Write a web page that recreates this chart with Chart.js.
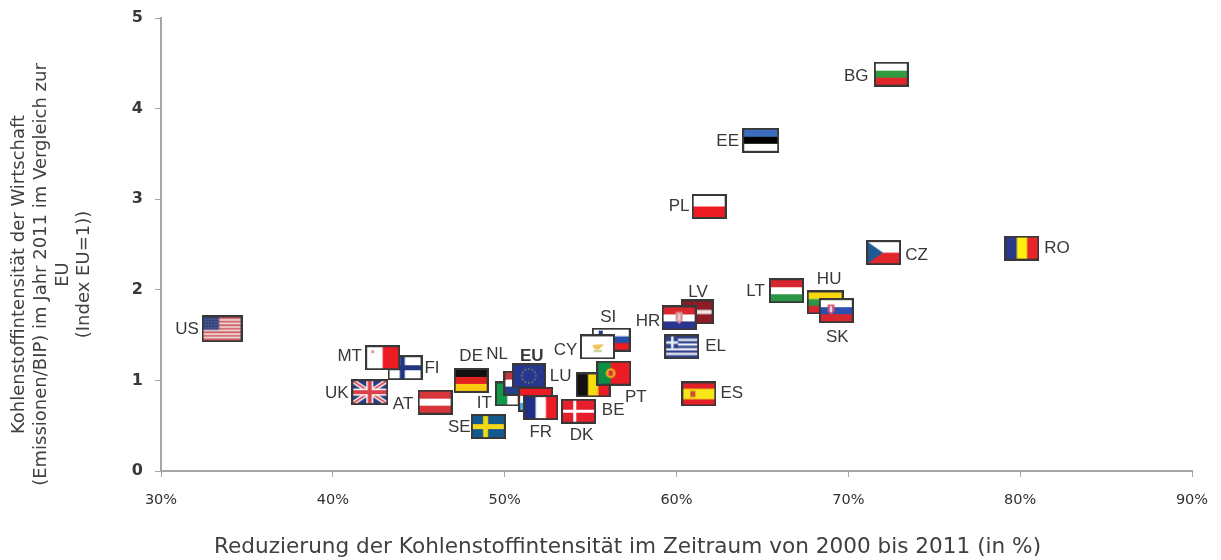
<!DOCTYPE html>
<html>
<head>
<meta charset="utf-8">
<title>Kohlenstoffintensität</title>
<script src="https://cdn.jsdelivr.net/npm/chart.js@4/dist/chart.umd.min.js"></script>
<style>
html, body { margin: 0; padding: 0; background: #fff; }
canvas { display: block; }
</style>
</head>
<body>
<canvas id="canvas" width="1221" height="560"></canvas>
<script>
// values, later entries are painted on top
var countries = ['US','FI','MT','UK','AT','DE','SE','IT','NL','EU','LU','FR','DK','BE','PT','SI','CY','LV','HR','EL','ES','LT','HU','SK','PL','EE','BG','CZ','RO'];
var reduction = [33.55,44.2,42.9,42.15,45.95,48.05,49.05,50.45,50.95,51.4,51.8,52.1,54.3,55.15,56.35,56.2,55.4,61.2,60.15,60.3,61.3,66.4,68.65,69.3,61.9,64.9,72.5,72.05,80.1];
var intensity = [1.57,1.14,1.25,0.87,0.76,1.0,0.49,0.85,0.97,1.05,0.79,0.7,0.66,0.95,1.08,1.45,1.37,1.755,1.69,1.37,0.85,1.99,1.86,1.77,2.92,3.65,4.38,2.41,2.46];

var xTicks = [30,40,50,60,70,80,90];
var yTicks = [0,1,2,3,4,5];
var xTitle = 'Reduzierung der Kohlenstoffintensität im Zeitraum von 2000 bis 2011 (in %)';
var yTitle = ['Kohlenstoffintensität der Wirtschaft','(Emissionen/BIP) im Jahr 2011 im Vergleich zur','EU','(Index EU=1))'];

// label offset from the flag centre, in pixels
var labelOffset = {
  US:[-35,1], FI:[27,1], MT:[-33,-1], UK:[-33,1], AT:[-32,2], DE:[0,-24], SE:[-29,1], IT:[-28,9],
  NL:[-24,-29], EU:[3,-20], LU:[25,-23], FR:[0,25], DK:[3,24], BE:[20,25], PT:[22,24], SI:[-3,-22],
  CY:[-32,3], LV:[1,-20], HR:[-31,3], EL:[34,-1], ES:[33,-1], LT:[-31,1], HU:[4,-23], SK:[1,27],
  PL:[-30,0], EE:[-33,1], BG:[-35,2], CZ:[33,3], RO:[35,0]
};

function hBands(g, w, h, cols, weights) {
  var total = 0, y = 0;
  weights = weights || cols.map(function() { return 1; });
  weights.forEach(function(v) { total += v; });
  cols.forEach(function(c, i) {
    var bh = h * weights[i] / total;
    g.fillStyle = c;
    g.fillRect(0, y, w, bh + 0.5);
    y += bh;
  });
}
function vBands(g, w, h, cols, weights) {
  var total = 0, x = 0;
  weights = weights || cols.map(function() { return 1; });
  weights.forEach(function(v) { total += v; });
  cols.forEach(function(c, i) {
    var bw = w * weights[i] / total;
    g.fillStyle = c;
    g.fillRect(x, 0, bw + 0.5, h);
    x += bw;
  });
}
function nordic(g, w, h, bg, cross, t) {
  g.fillStyle = bg;
  g.fillRect(0, 0, w, h);
  g.fillStyle = cross;
  g.fillRect(w * 0.33, 0, t, h);
  g.fillRect(0, h / 2 - t / 2, w, t);
}
function crest(g, x, y, c1, c2, rw, rh) {
  g.fillStyle = c1;
  g.fillRect(x - rw, y - rh, rw * 2, rh * 1.4);
  g.beginPath();
  g.moveTo(x - rw, y + rh * 0.4);
  g.lineTo(x, y + rh);
  g.lineTo(x + rw, y + rh * 0.4);
  g.fill();
  g.fillStyle = c2;
  g.fillRect(x - 1, y - rh * 0.7, 2, rh * 1.2);
}

var RED = '#ed1c24', BLUE = '#20358f', WHITE = '#fff', GREEN = '#2f9a3f', YELLOW = '#f8d90f';

var flagPainter = {
  US: function(g, w, h) {
    var i, cols = [];
    for (i = 0; i < 13; i++) cols.push(i % 2 ? '#f3e6e6' : '#d0565c');
    hBands(g, w, h, cols);
    g.fillStyle = '#2f3f78';
    g.fillRect(0, 0, w * 0.42, h * 0.54);
    g.fillStyle = '#aeb4d2';
    for (i = 0; i < 20; i++) g.fillRect(1.5 + (i % 5) * 3, 1.5 + Math.floor(i / 5) * 2.9, 1, 1);
  },
  FI: function(g, w, h) { nordic(g, w, h, WHITE, '#23357f', 5); },
  MT: function(g, w, h) {
    vBands(g, w, h, [WHITE, RED]);
    g.fillStyle = '#dba0a0';
    g.fillRect(4, 3, 3, 3);
  },
  UK: function(g, w, h) {
    g.fillStyle = '#2b3a80';
    g.fillRect(0, 0, w, h);
    g.strokeStyle = WHITE;
    g.lineWidth = 4.5;
    g.beginPath(); g.moveTo(0, 0); g.lineTo(w, h); g.moveTo(w, 0); g.lineTo(0, h); g.stroke();
    g.strokeStyle = '#d8404a';
    g.lineWidth = 1.8;
    g.beginPath(); g.moveTo(0, 0); g.lineTo(w, h); g.moveTo(w, 0); g.lineTo(0, h); g.stroke();
    g.fillStyle = WHITE;
    g.fillRect(w / 2 - 3.5, 0, 7, h);
    g.fillRect(0, h / 2 - 3.5, w, 7);
    g.fillStyle = '#d8404a';
    g.fillRect(w / 2 - 2, 0, 4, h);
    g.fillRect(0, h / 2 - 2, w, 4);
  },
  AT: function(g, w, h) { hBands(g, w, h, ['#d8353a', WHITE, '#d8353a']); },
  DE: function(g, w, h) { hBands(g, w, h, ['#111', '#e0221f', '#fbc90f']); },
  SE: function(g, w, h) { nordic(g, w, h, '#12598f', '#f2d815', 5); },
  IT: function(g, w, h) { vBands(g, w, h, ['#109a47', WHITE, RED]); },
  NL: function(g, w, h) { hBands(g, w, h, ['#c23a40', WHITE, '#24408f']); },
  EU: function(g, w, h) {
    g.fillStyle = '#25378f';
    g.fillRect(0, 0, w, h);
    g.fillStyle = '#c9b030';
    for (var i = 0; i < 12; i++) {
      var a = i * Math.PI / 6;
      g.fillRect(w / 2 + Math.cos(a) * 7 - 0.6, h / 2 + Math.sin(a) * 7 - 0.6, 1.3, 1.3);
    }
  },
  LU: function(g, w, h) { hBands(g, w, h, [RED, WHITE, '#4aa8e0']); },
  FR: function(g, w, h) { vBands(g, w, h, ['#1f2f85', WHITE, RED]); },
  DK: function(g, w, h) { nordic(g, w, h, '#e5202c', WHITE, 3); },
  BE: function(g, w, h) { vBands(g, w, h, ['#111', '#f6dc12', RED]); },
  PT: function(g, w, h) {
    vBands(g, w, h, ['#0c8f45', RED], [2, 3]);
    g.fillStyle = '#e8a820';
    g.beginPath(); g.arc(w * 0.4, h / 2, 5, 0, Math.PI * 2); g.fill();
    g.fillStyle = '#d8303a';
    g.fillRect(w * 0.4 - 2, h / 2 - 2.5, 4, 5);
  },
  SI: function(g, w, h) {
    hBands(g, w, h, [WHITE, '#2552a8', RED]);
    g.fillStyle = '#1c3a8a';
    g.fillRect(5, 1, 4, 6);
  },
  CY: function(g, w, h) {
    g.fillStyle = WHITE;
    g.fillRect(0, 0, w, h);
    g.fillStyle = '#f0c25a';
    g.beginPath();
    g.moveTo(w * 0.32, h * 0.42);
    g.lineTo(w * 0.72, h * 0.36);
    g.lineTo(w * 0.55, h * 0.62);
    g.lineTo(w * 0.42, h * 0.62);
    g.fill();
    g.fillStyle = '#a8b860';
    g.fillRect(w * 0.38, h * 0.66, w * 0.26, 1.5);
  },
  LV: function(g, w, h) { hBands(g, w, h, ['#8f1c24', '#f4e4e4', '#8f1c24'], [2, 1, 2]); },
  HR: function(g, w, h) {
    hBands(g, w, h, ['#d8262e', WHITE, '#2a358f']);
    crest(g, w / 2, h / 2, '#d8909a', '#f0dcdc', 3.5, 6);
  },
  EL: function(g, w, h) {
    var i, cols = [];
    for (i = 0; i < 9; i++) cols.push(i % 2 ? '#eef0f6' : '#30438f');
    hBands(g, w, h, cols);
    g.fillStyle = '#30438f';
    g.fillRect(0, 0, w * 0.38, h * 0.56);
    g.fillStyle = '#eef0f6';
    g.fillRect(w * 0.19 - 1, 0, 2.5, h * 0.56);
    g.fillRect(0, h * 0.28 - 1, w * 0.38, 2.5);
  },
  ES: function(g, w, h) {
    hBands(g, w, h, ['#e3202a', '#f8e716', '#e3202a'], [1, 2, 1]);
    g.fillStyle = '#c8503a';
    g.fillRect(7, h / 2 - 3, 5, 6);
  },
  LT: function(g, w, h) { hBands(g, w, h, ['#d8262e', WHITE, '#2b9648']); },
  HU: function(g, w, h) { hBands(g, w, h, [YELLOW, '#2b9648', '#d8262e']); },
  SK: function(g, w, h) {
    hBands(g, w, h, [WHITE, '#2a50b0', '#d8262e']);
    crest(g, w * 0.33, h * 0.45, '#d8506a', '#eef', 3.5, 5);
  },
  PL: function(g, w, h) { hBands(g, w, h, [WHITE, RED]); },
  EE: function(g, w, h) { hBands(g, w, h, ['#3b6fbe', '#000', WHITE]); },
  BG: function(g, w, h) { hBands(g, w, h, [WHITE, GREEN, '#e0262a']); },
  CZ: function(g, w, h) {
    hBands(g, w, h, [WHITE, '#e0262a']);
    g.fillStyle = '#1f5a94';
    g.beginPath(); g.moveTo(0, 0); g.lineTo(w * 0.48, h / 2); g.lineTo(0, h); g.fill();
  },
  RO: function(g, w, h) { vBands(g, w, h, ['#2a3a8a', '#fff012', '#e8262a']); }
};

// inner size of each flag, the frame comes on top of it
var flagSize = { US: [37, 23], UK: [33, 22], EE: [33, 21], SI: [35, 20], HU: [33, 20], LV: [29, 21], EU: [30, 21] };

function makeFlag(code) {
  var size = flagSize[code] || [31, 21];
  var w = size[0], h = size[1], border = 2;
  var src = document.createElement('canvas');
  src.width = w + 2 * border;
  src.height = h + 2 * border;
  var g = src.getContext('2d');
  g.fillStyle = '#383838';
  g.fillRect(0, 0, src.width, src.height);
  g.save();
  g.translate(border, border);
  g.beginPath();
  g.rect(0, 0, w, h);
  g.clip();
  flagPainter[code](g, w, h);
  g.restore();
  // the reference is a soft, upscaled picture
  var out = document.createElement('canvas');
  out.width = src.width;
  out.height = src.height;
  var o = out.getContext('2d');
  o.filter = 'blur(0.4px)';
  o.drawImage(src, 0, 0);
  return out;
}

var flags = countries.map(makeFlag);
var points = countries.map(function(c, i) { return { x: reduction[i], y: intensity[i] }; });

var countryLabels = {
  id: 'countryLabels',
  afterDatasetsDraw: function(chart) {
    var ctx = chart.ctx;
    var meta = chart.getDatasetMeta(0);
    ctx.save();
    ctx.textAlign = 'center';
    ctx.textBaseline = 'middle';
    ctx.fillStyle = '#383838';
    meta.data.forEach(function(pt, i) {
      var code = countries[i];
      var off = labelOffset[code];
      ctx.font = (code === 'EU' ? 'bold ' : '') + '17px "Liberation Sans"';
      ctx.fillText(code, pt.x + off[0], pt.y + off[1]);
    });
    ctx.restore();
  }
};

// the titles in the picture are not centred on the axes
function shiftTitle(scale, dx, dy) {
  scale.drawTitle = function() {
    this.ctx.save();
    this.ctx.translate(dx, dy);
    Object.getPrototypeOf(this).drawTitle.call(this);
    this.ctx.restore();
  };
}

var ctx = document.getElementById('canvas').getContext('2d');

var myChart = new Chart(ctx, {
  type: 'scatter',
  data: {
    datasets: [{
      label: 'Kohlenstoffintensität',
      data: points,
      pointStyle: function(c) { return flags[c.dataIndex]; },
      pointRadius: 10,
      showLine: false
    }]
  },
  options: {
    responsive: false,
    animation: false,
    layout: { padding: { top: 18, right: 29, bottom: 0, left: 0 } },
    plugins: { legend: { display: false }, tooltip: { enabled: false }, title: { display: false } },
    scales: {
      x: {
        type: 'linear',
        min: xTicks[0],
        max: xTicks[xTicks.length - 1],
        afterFit: function(scale) {
          scale.height = 89;
          scale.paddingLeft = 0;
          scale.paddingRight = 0;
          shiftTitle(scale, -49, 0);
        },
        afterBuildTicks: function(scale) { scale.ticks = xTicks.map(function(v) { return { value: v }; }); },
        border: { color: '#a6a6a6', width: 2 },
        grid: { drawOnChartArea: false, color: '#a6a6a6', tickLength: 6 },
        ticks: {
          color: '#303030',
          padding: 15,
          maxRotation: 0,
          font: { family: '"DejaVu Sans"', size: 14.5, weight: 'normal' },
          callback: function(v) { return v + '%'; }
        },
        title: {
          display: true,
          text: xTitle,
          color: '#404040',
          font: { family: '"DejaVu Sans"', size: 21.6, weight: 'normal' },
          padding: { top: 0, bottom: 0 }
        }
      },
      y: {
        type: 'linear',
        min: yTicks[0],
        max: yTicks[yTicks.length - 1],
        afterFit: function(scale) {
          scale.width = 161;
          scale.paddingTop = 0;
          scale.paddingBottom = 0;
          shiftTitle(scale, 0, 30);
        },
        afterBuildTicks: function(scale) { scale.ticks = yTicks.map(function(v) { return { value: v }; }); },
        border: { color: '#a6a6a6', width: 2 },
        grid: { drawOnChartArea: false, color: '#a6a6a6', tickLength: 6 },
        ticks: {
          color: '#383838',
          padding: 12,
          font: { family: '"DejaVu Sans"', size: 16, weight: 'bold' }
        },
        title: {
          display: true,
          text: yTitle,
          color: '#404040',
          font: { family: '"DejaVu Sans"', size: 18, weight: 'normal', lineHeight: 1.2 },
          padding: { top: 9, bottom: 0 }
        }
      }
    }
  },
  plugins: [countryLabels]
});
</script>
</body>
</html>
